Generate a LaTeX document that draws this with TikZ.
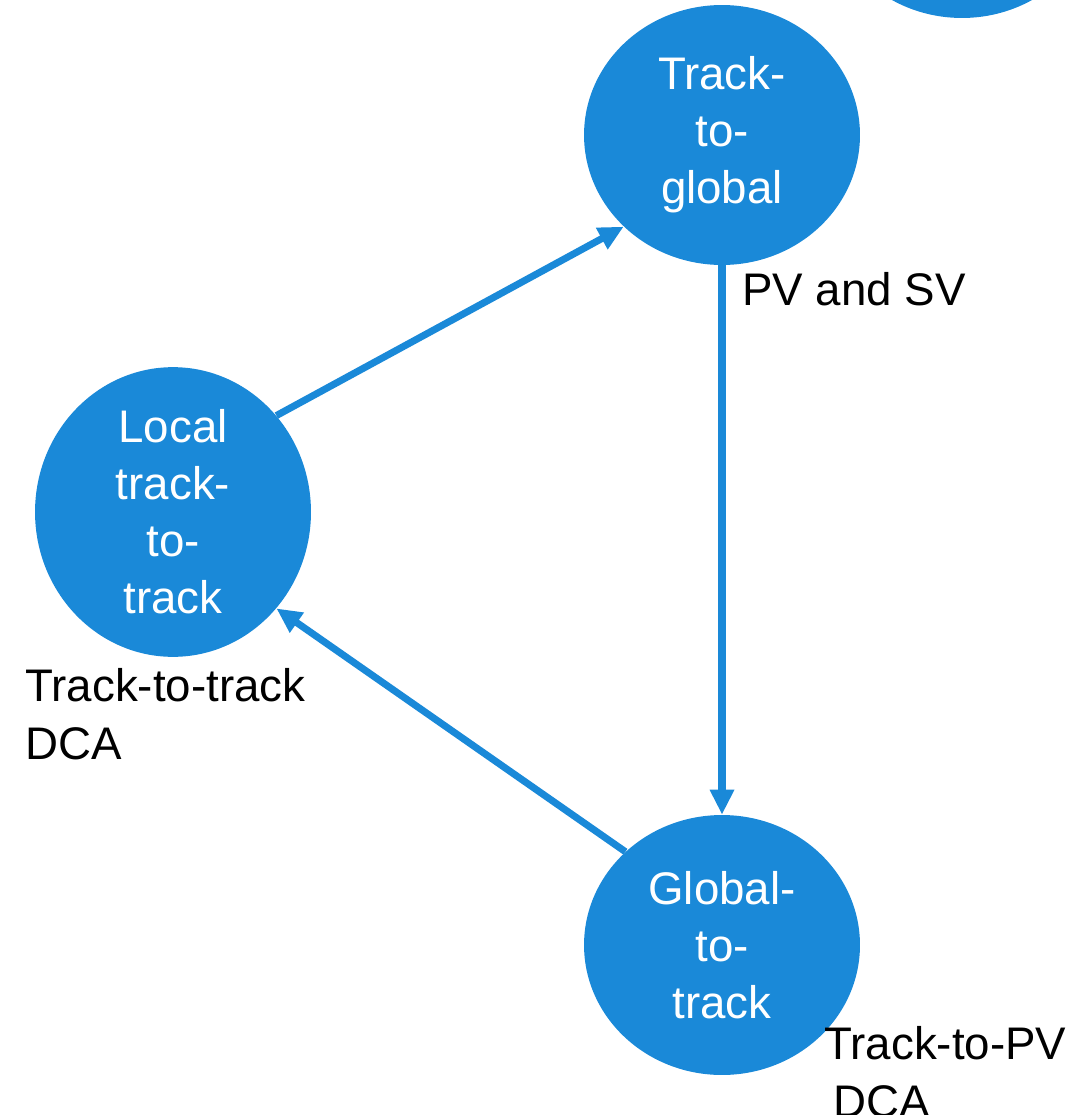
\documentclass[tikz,border=0pt]{standalone}
\usepackage{fontspec}
\setmainfont{Liberation Sans}
\usetikzlibrary{arrows.meta,shapes.geometric}
\definecolor{stepblue}{RGB}{26,137,216}
\tikzset{
  blob/.style={
    ellipse,
    fill=stepblue,
    draw=none,
    inner sep=0pt,
    minimum width=5.52cm,
    minimum height=5.2cm,
    text=white,
    align=center,
    font=\fontsize{26}{32.5}\selectfont
  },
  flow/.style={
    line width=4pt,
    draw=stepblue,
    -{Triangle[length=0.5cm,width=0.46cm]}
  },
  note/.style={
    inner sep=0pt,
    align=left,
    font=\fontsize{26}{32.5}\selectfont
  }
}

\begin{document}
\begin{tikzpicture}[x=0.02cm,y=-0.02cm]

  \useasboundingbox (0,0) rectangle (1071,1115);

  \node[blob] (extra) at (962,-112) {};
  \node[blob] (global) at (722,135) {Track-\\to-\\global};
  \node[blob] (local) at (173,512) {Local\\track-\\to-\\track};
  \node[blob] (gtrack) at (722,945) {Global-\\to-\\track};

  \draw[flow] (local.43) -- (global.223);
  \draw[flow] (global.south) -- (gtrack.north);
  \draw[flow] (gtrack.136) -- (local.317);

  % base = baseline of the last line
  \node[note, anchor=base west] (pvsv) at (742,305) {PV and SV};
  \node[note, anchor=base west] (ttdca) at (25,759) {Track-to-track\\DCA};
  \node[note, anchor=base west] (pvdca) at (824,1117) {Track-to-PV\\\hspace*{0.2em}DCA};

\end{tikzpicture}
\end{document}
